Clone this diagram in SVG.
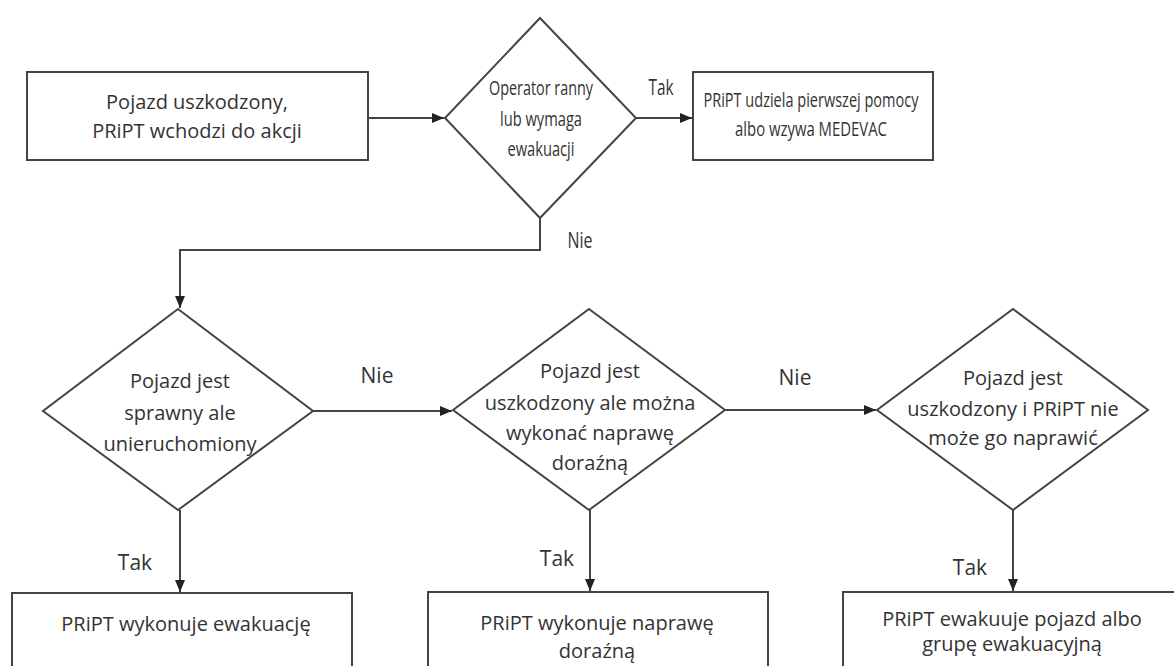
<svg xmlns="http://www.w3.org/2000/svg" width="1174" height="666" viewBox="0 0 1174 666">
<defs>
<marker id="arr" viewBox="0 0 12 10" refX="12" refY="5" markerWidth="12" markerHeight="10" markerUnits="userSpaceOnUse" orient="auto">
<path d="M0,0 L12,5 L0,10 Z" fill="#222"/>
</marker>
<style>
.box{fill:#fff;stroke:#444;stroke-width:2}
.t{font-family:"Open Sans","Noto Sans",sans-serif;font-size:20px;fill:#333;text-anchor:middle;dominant-baseline:central}
.lbl{font-family:"Open Sans","Noto Sans",sans-serif;font-size:21px;fill:#333;text-anchor:middle;dominant-baseline:central}
.c{fill:none;stroke:#444;stroke-width:2;marker-end:url(#arr)}
</style>
</defs>
<rect width="1174" height="666" fill="#fff"/>
<g id="connectors">
<path class="c" d="M368,118 L444,118"/>
<path class="c" d="M636,118 L692,118"/>
<path class="c" d="M540,218 L540,250 L180,250 L180,308"/>
<path class="c" d="M313,411 L452,411"/>
<path class="c" d="M725,410 L876,410"/>
<path class="c" d="M180,510 L180,592"/>
<path class="c" d="M590,510 L590,591"/>
<path class="c" d="M1013,510 L1013,591"/>
<text class="lbl" x="661" y="87" textLength="25" lengthAdjust="spacingAndGlyphs">Tak</text>
<text class="lbl" x="580" y="240" textLength="25" lengthAdjust="spacingAndGlyphs">Nie</text>
<text class="lbl" x="377" y="375">Nie</text>
<text class="lbl" x="795" y="377">Nie</text>
<text class="lbl" x="135" y="562">Tak</text>
<text class="lbl" x="557" y="558">Tak</text>
<text class="lbl" x="970" y="567">Tak</text>
</g>
<g id="start">
<rect class="box" x="27" y="72" width="341" height="88"/>
<text class="t" x="197" y="101">Pojazd uszkodzony,</text>
<text class="t" x="197" y="130">PRiPT wchodzi do akcji</text>
</g>
<g id="d1">
<polygon class="box" points="540,18 636,118 540,218 445,118"/>
<text class="t" x="541" y="87" textLength="104" lengthAdjust="spacingAndGlyphs">Operator ranny</text>
<text class="t" x="541" y="118" textLength="82" lengthAdjust="spacingAndGlyphs">lub wymaga</text>
<text class="t" x="541" y="148" textLength="67" lengthAdjust="spacingAndGlyphs">ewakuacji</text>
</g>
<g id="medevac">
<rect class="box" x="693" y="72" width="240" height="88"/>
<text class="t" x="811" y="99" textLength="215" lengthAdjust="spacingAndGlyphs">PRiPT udziela pierwszej pomocy</text>
<text class="t" x="811" y="128" textLength="152" lengthAdjust="spacingAndGlyphs">albo wzywa MEDEVAC</text>
</g>
<g id="d2">
<polygon class="box" points="178,309 313,411 178,510 43,411"/>
<text class="t" x="180" y="380">Pojazd jest</text>
<text class="t" x="180" y="412">sprawny ale</text>
<text class="t" x="180" y="443">unieruchomiony</text>
</g>
<g id="d3">
<polygon class="box" points="589,309 725,410 589,510 453,410"/>
<text class="t" x="590" y="370">Pojazd jest</text>
<text class="t" x="590" y="402">uszkodzony ale można</text>
<text class="t" x="590" y="432">wykonać naprawę</text>
<text class="t" x="590" y="462">doraźną</text>
</g>
<g id="d4">
<polygon class="box" points="1013,309 1148,410 1013,510 877,410"/>
<text class="t" x="1013" y="377">Pojazd jest</text>
<text class="t" x="1013" y="408">uszkodzony i PRiPT nie</text>
<text class="t" x="1013" y="437">może go naprawić</text>
</g>
<g id="b1">
<rect class="box" x="12" y="593" width="340" height="90"/>
<text class="t" x="186" y="623">PRiPT wykonuje ewakuację</text>
</g>
<g id="b2">
<rect class="box" x="428" y="592" width="340" height="90"/>
<text class="t" x="597" y="622">PRiPT wykonuje naprawę</text>
<text class="t" x="597" y="650">doraźną</text>
</g>
<g id="b3">
<rect class="box" x="843" y="592" width="340" height="90"/>
<text class="t" x="1012" y="618">PRiPT ewakuuje pojazd albo</text>
<text class="t" x="1012" y="643">grupę ewakuacyjną</text>
</g>
</svg>
